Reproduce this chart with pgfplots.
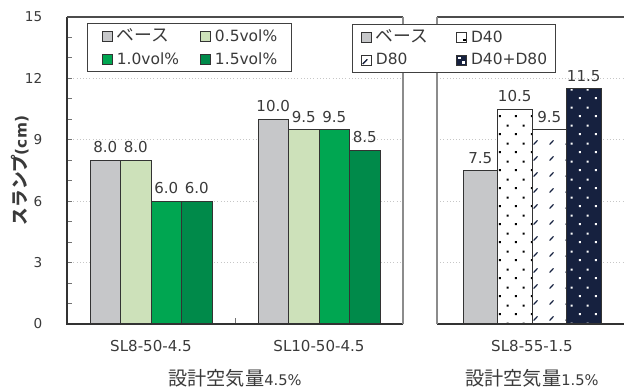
\documentclass[border=0pt]{standalone}
\usepackage{fontspec}
\usepackage{pgfplots}
\pgfplotsset{compat=1.18}
\usetikzlibrary{patterns}
\setmainfont{DejaVu Sans}
\newfontfamily\jp{Noto Sans CJK JP}[Scale=1.15]

\definecolor{bgray}{HTML}{C6C7C9}
\definecolor{lgreen}{HTML}{CDE1BA}
\definecolor{mgreen}{HTML}{00A651}
\definecolor{dgreen}{HTML}{008A4A}
\definecolor{navy}{HTML}{16213F}
\definecolor{txt}{HTML}{3A3A3A}
\definecolor{edge}{HTML}{333333}

% sparse staggered dots and short slashes used as bar fills
\pgfdeclarepatternformonly{sdots}{\pgfpointorigin}{\pgfpoint{12pt}{13.5pt}}{\pgfpoint{12pt}{13.5pt}}{
  \pgfpathrectangle{\pgfpoint{2.2pt}{2.2pt}}{\pgfpoint{1.6pt}{1.6pt}}
  \pgfpathrectangle{\pgfpoint{8.2pt}{8.95pt}}{\pgfpoint{1.6pt}{1.6pt}}
  \pgfusepath{fill}
}
\pgfdeclarepatternformonly{sslash}{\pgfpointorigin}{\pgfpoint{12pt}{12pt}}{\pgfpoint{12pt}{12pt}}{
  \pgfsetlinewidth{0.9pt}
  \pgfpathmoveto{\pgfpoint{4.4pt}{4.4pt}}
  \pgfpathlineto{\pgfpoint{7.4pt}{7.6pt}}
  \pgfusepath{stroke}
}

\newcommand{\tickfont}{\fontsize{10.2pt}{12pt}\selectfont}
\newcommand{\lblfont}{\fontsize{11.3pt}{13pt}\selectfont}
\newcommand{\legfont}{\fontsize{11.6pt}{13pt}\selectfont}
\newcommand{\axfont}{\fontsize{11pt}{14pt}\selectfont}
\newcommand{\jpax}[1]{{\fontsize{12.5pt}{14pt}\selectfont\jp #1}}

\pgfplotsset{
  panel/.style={
    scale only axis, height=230.25pt,
    ymin=0, ymax=15, ytick={0,3,...,15},
    ymajorgrids, major grid style={dotted, black!22, line width=0.7pt},
    axis line style={draw=none}, clip=false,
    ybar=0pt,
    tick align=inside,
    /pgf/number format/assume math mode=true,
    tick label style={font=\tickfont, text=txt},
    xticklabel style={font=\lblfont, text=txt, yshift=-9pt},
    xlabel style={font=\axfont, text=txt, at={(axis description cs:0.5,-0.176)}, anchor=center},
    every node near coord/.append style={font=\lblfont, text=txt, inner xsep=1pt, inner ysep=5pt},
    nodes near coords,
    nodes near coords style={/pgf/number format/.cd, fixed, fixed zerofill, precision=1},
    legend columns=2,
    legend cell align=left,
    legend image code/.code={\draw[#1, line width=0.6pt] (0pt,-3.7pt) rectangle (7.4pt,3.7pt);},
    legend style={draw=black!75, line width=0.7pt, fill=white, anchor=north west,
      font=\legfont, text=txt, inner ysep=3pt, row sep=4.5pt,
      nodes={inner xsep=0pt, inner ysep=1pt},
      /tikz/every odd column/.append style={column sep=3pt}},
  },
  barstyle/.style={draw=edge, line width=0.7pt},
}

\begin{document}
\begin{tikzpicture}
\useasboundingbox (0,0) rectangle (468pt,291.75pt);

% --- air content 4.5% panel ---
\begin{axis}[panel,
  at={(50.25pt,48.75pt)}, anchor=south west,
  width=252pt, bar width=22.875pt,
  xmin=-0.5, xmax=1.5,
  xtick={0,1}, xticklabels={SL8-50-4.5,SL10-50-4.5},
  xtick pos=bottom, major x tick style={draw=none},
  extra x ticks={0.5}, extra x tick labels={},
  extra x tick style={major x tick style={draw=black!55, line width=0.75pt}, major tick length=4.5pt},
  ytick pos=left, minor y tick num=2,
  y tick style={draw=black!55, line width=0.7pt},
  major tick length=3.75pt, minor tick length=3.75pt,
  yticklabel style={xshift=-15pt},
  ylabel={\bfseries{\jp スランプ}(cm)},
  ylabel style={font=\fontsize{11.5pt}{14pt}\selectfont, text=txt, at={(axis description cs:-0.1399,0.5)}, anchor=center},
  xlabel={\jpax{設計空気量}4.5\%},
  legend style={at={(axis description cs:0.0595,0.9805)}, inner xsep=11pt,
    /tikz/every even column/.append style={column sep=16pt}},
]
\addplot[barstyle, fill=bgray]  coordinates {(0,8.0) (1,10.0)};
\addplot[barstyle, fill=lgreen] coordinates {(0,8.0) (1,9.5)};
\addplot[barstyle, fill=mgreen] coordinates {(0,6.0) (1,9.5)};
\addplot[barstyle, fill=dgreen] coordinates {(0,6.0) (1,8.5)};
\legend{{\jp ベース},0.5vol\%,1.0vol\%,1.5vol\%}
\draw[black!80, line width=0.8pt] (rel axis cs:0,1) -- (rel axis cs:0,0) -- (rel axis cs:1,0);
\draw[black!70, line width=0.8pt] (rel axis cs:0,1) -- (rel axis cs:1,1);
\draw[black!45, line width=0.8pt] (rel axis cs:1,1) -- (rel axis cs:1,0);
\end{axis}

% --- air content 1.5% panel ---
\begin{axis}[panel,
  at={(327.75pt,48.75pt)}, anchor=south west,
  width=142.5pt, bar width=25.875pt,
  xmin=-0.5, xmax=0.5,
  xtick={0}, xticklabels={SL8-55-1.5},
  major x tick style={draw=none},
  major y tick style={draw=none}, yticklabels={},
  xlabel={\jpax{設計空気量}1.5\%},
  legend style={at={(axis description cs:-0.447,0.977)}, inner xsep=6.5pt,
    /tikz/every even column/.append style={column sep=21pt}},
]
\addplot[barstyle, fill=bgray] coordinates {(0,7.5)};
\addplot[barstyle, preaction={fill=white}, pattern=sdots, pattern color=black, draw=edge,
  legend image code/.code={
    \draw[draw=edge, fill=white, line width=0.6pt] (0pt,-3.7pt) rectangle (7.4pt,3.7pt);
    \fill[black] (5pt,-2.6pt) rectangle (6.2pt,-1.4pt);}]
  coordinates {(0,10.5)};
\addplot[barstyle, preaction={fill=white}, pattern=sslash, pattern color=navy, draw=edge,
  legend image code/.code={
    \draw[draw=edge, fill=white, line width=0.6pt] (0pt,-3.7pt) rectangle (7.4pt,3.7pt);
    \draw[navy, line width=0.9pt] (0.9pt,-2.8pt) -- (4.2pt,0.6pt);}]
  coordinates {(0,9.5)};
\addplot[barstyle, preaction={fill=navy}, pattern=sdots, pattern color=white, draw=edge,
  legend image code/.code={
    \draw[draw=edge, fill=navy, line width=0.6pt] (0pt,-3.7pt) rectangle (7.4pt,3.7pt);
    \fill[white] (1.4pt,1.2pt) rectangle (2.5pt,2.3pt);
    \fill[white] (4.6pt,-2.4pt) rectangle (5.7pt,-1.3pt);}]
  coordinates {(0,11.5)};
\legend{{\jp ベース},D40,D80,D40+D80}
\draw[black!80, line width=0.8pt] (rel axis cs:0,0) -- (rel axis cs:1,0);
\draw[black!70, line width=0.8pt] (rel axis cs:0,1) -- (rel axis cs:1,1);
\draw[black!45, line width=0.8pt] (rel axis cs:0,1) -- (rel axis cs:0,0);
\end{axis}
\end{tikzpicture}
\end{document}
